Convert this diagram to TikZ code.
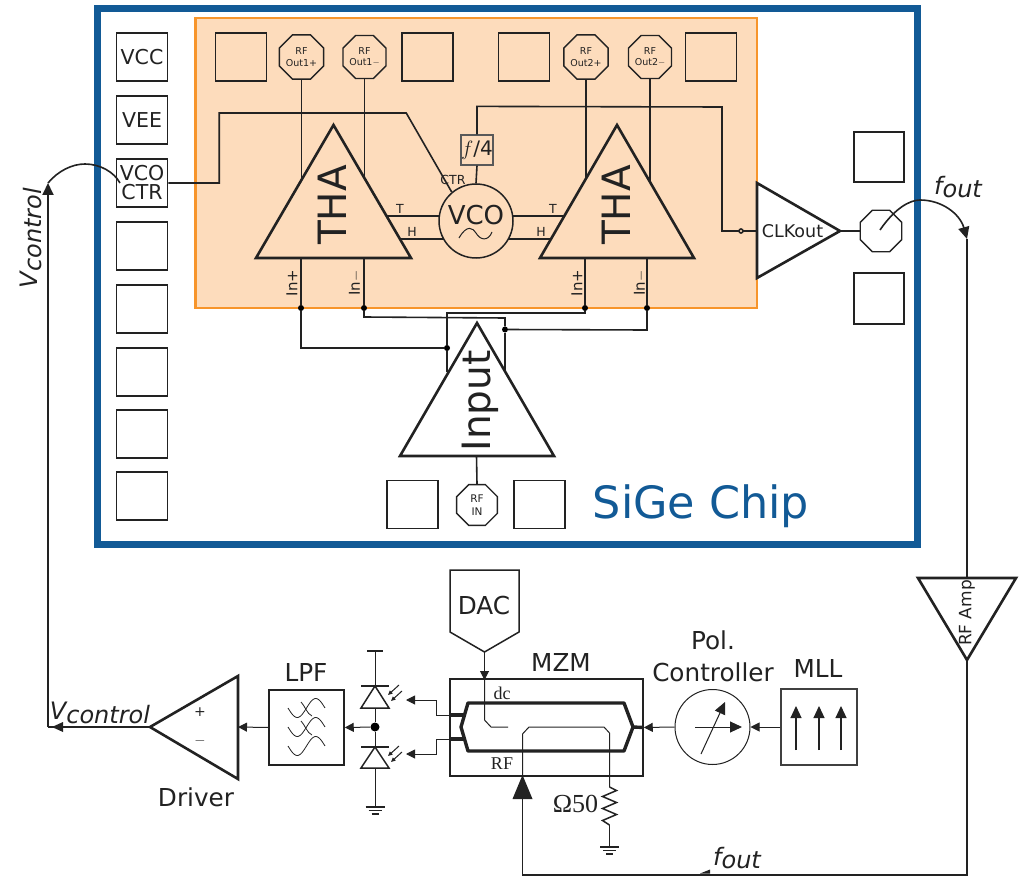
\documentclass[tikz,border=0pt]{standalone}
\usepackage{fontspec}
\setmainfont{DejaVu Sans}
\newfontfamily\serifpart{Liberation Serif}
\usepackage{xcolor}
\usetikzlibrary{arrows.meta}
\usetikzlibrary{shapes.geometric}
\definecolor{chipblue}{HTML}{125A96}
\definecolor{corefill}{HTML}{FDDCBC}
\definecolor{coreline}{HTML}{F7952B}
\definecolor{inkgray}{HTML}{222222}
\newcommand{\fs}[1]{\fontsize{#1}{#1}\selectfont}
\newcommand{\fout}{\textit{f\raisebox{-3pt}{out}}}
\newcommand{\vctl}{\textit{V\raisebox{-4pt}{control}}}

\begin{document}
\begin{tikzpicture}[x=1pt,y=-1pt,inkgray,
  wire/.style={line width=1.6pt},
  thin wire/.style={line width=1pt},
  amp/.style={line width=2.6pt},
  tip/.style={-{Triangle[length=9pt,width=9pt]}},
  big tip/.style={-{Triangle[length=12pt,width=11pt]}},
  pad/.style={draw,line width=1.5pt,rectangle,minimum width=51pt,minimum height=48pt,inner sep=0pt,font=\fs{20.5},align=center},
  octo/.style={draw,line width=1.4pt,regular polygon,regular polygon sides=8,minimum size=44pt,inner sep=0pt,font=\fs{9.5},align=center},
  dot/.style={circle,fill=black,inner sep=0pt,minimum size=6pt},
  lab/.style={font=\fs{24.7},inner sep=0pt},
  small lab/.style={font=\fs{12.5},inner sep=0pt},
  bigrot/.style={font=\fs{39},inner sep=0pt,rotate=90},
  pin lab/.style={font=\fs{15},inner sep=0pt,rotate=90}]
 \useasboundingbox (0,0) rectangle (1020,877);
 \fill[white] (0,0) rectangle (1020,877);

 %%%%%%%%%%%%%%%%%%%%%%%%%%%%%%%%%%% chip
 \draw[chipblue,line width=7pt] (97.5,9) rectangle (917.5,544);
 \path[fill=corefill,draw=coreline,line width=2.2pt] (195.5,18) rectangle (757,308);
 \node[font=\fs{44.5},text=chipblue,inner sep=0pt] (chiplabel) at (701,506) {SiGe Chip};

 \node[pad] (vcc) at (142,57) {VCC};
 \node[pad] (vee) at (142,120) {VEE};
 \node[pad] (vcoctr) at (142,183) {VCO\\[-1.5pt]CTR};
 \node[pad] (padA) at (142,246) {};
 \node[pad] (padB) at (142,309) {};
 \node[pad] (padC) at (142,372) {};
 \node[pad] (padD) at (142,434) {};
 \node[pad] (padE) at (142,496) {};
 \node[pad] (topA) at (241,57) {};
 \node[pad] (topB) at (427.5,57) {};
 \node[pad] (topC) at (524,57) {};
 \node[pad] (topD) at (711,57) {};
 \node[pad] (botA) at (412.5,504.5) {};
 \node[pad] (botB) at (539.5,504.5) {};
 \node[pad,minimum width=50pt,minimum height=50pt] (rightA) at (879,157) {};
 \node[pad,minimum width=50pt,minimum height=51pt] (rightB) at (879,298.5) {};

 \node[octo] (outAp) at (301.5,57) {RF\\[2pt]Out1+};
 \node[octo] (outAm) at (364.5,57) {RF\\[2pt]Out1$-$};
 \node[octo] (outBp) at (586,57) {RF\\[2pt]Out2+};
 \node[octo] (outBm) at (650,57) {RF\\[2pt]Out2$-$};
 \node[octo,font=\fs{10.5}] (rfin) at (477,505) {RF\\[2pt]IN};
 \node[octo,minimum size=45pt] (clkpad) at (881,231) {};

 %%%%%%%%%%%%%%%%%%%%%%%%%%%%%%%%%%% amplifiers
 \coordinate (thaAl) at (256,258);
 \coordinate (thaAr) at (411,258);
 \coordinate (thaBl) at (540,258);
 \coordinate (thaBr) at (694,258);
 \draw[amp,line join=miter] (333.5,125)--(thaAr)--(thaAl)--cycle;
 \draw[amp,line join=miter] (617,125)--(thaBr)--(thaBl)--cycle;
 \node[bigrot] (thaA) at (332,205) {THA};
 \node[bigrot] (thaB) at (616,205) {THA};

 \node[draw,circle,line width=1.5pt,minimum size=74pt,inner sep=0pt,fill=corefill] (vco) at (476,221) {};
 \node[font=\fs{26},inner sep=0pt] (vcotext) at (476,215) {VCO};
 \draw[line width=1pt] (459,238) .. controls (467,224) and (473,228) .. (476,233) .. controls (480,240) and (488,242) .. (492,232);
 \node[draw=gray!70!black,line width=1.2pt,minimum width=32pt,minimum height=30pt,inner sep=0pt,font=\fs{20}] (divider) at (477,150) {$f$/4};

 \coordinate (thaAtopl) at (301.5,180);
 \coordinate (thaAtopr) at (364.5,178);
 \coordinate (thaBtopl) at (586,178);
 \coordinate (thaBtopr) at (650,181);
 \draw[wire] (outAp)--(thaAtopl);
 \draw[wire] (outAm)--(thaAtopr);
 \draw[wire] (outBp)--(thaBtopl);
 \draw[wire] (outBm)--(thaBtopr);

 \draw[wire] (vcoctr.east)--++(51,0)--++(0,-70)--++(187,0)--(vco.130);
 \node[small lab] (ctrlab) at (453,180) {CTR};
 \draw[wire] (divider.south)--(vco.north);
 \coordinate (clkin) at (757,231);
 \draw[wire] (divider.north)--++(0,-28)--(722,107)--(722,231)--(clkin);
 \draw[wire,fill=corefill] (741,231) circle (2pt);

 \coordinate (tA) at (386,216);
 \coordinate (hA) at (400,239);
 \coordinate (tB) at (564,216);
 \coordinate (hB) at (551,239);
 \coordinate (vtl) at (440,216);
 \coordinate (vhl) at (444,239);
 \coordinate (vtr) at (512,216);
 \coordinate (vhr) at (508,239);
 \draw[wire] (tA)--(vtl);
 \draw[wire] (hA)--(vhl);
 \draw[wire] (vtr)--(tB);
 \draw[wire] (vhr)--(hB);
 \node[small lab] (tAl) at (400,209) {T};
 \node[small lab] (hAl) at (412,232) {H};
 \node[small lab] (tBl) at (553,209) {T};
 \node[small lab] (hBl) at (541,232) {H};

 %%%%%%%%%%%%%%%%%%%%%%%%%%%%%%%%%%% input stage
 \coordinate (inAp) at (301,258);
 \coordinate (inAm) at (364,258);
 \coordinate (inBp) at (585,258);
 \coordinate (inBm) at (647,258);
 \node[dot] (dAp) at (301,308) {};
 \node[dot] (dAm) at (364,308) {};
 \node[dot] (dBp) at (585,308) {};
 \node[dot] (dBm) at (647,308) {};
 \node[dot] (dIl) at (447,348) {};
 \node[dot] (dIr) at (505,329.5) {};
 \coordinate (inputl) at (447,372);
 \coordinate (inputr) at (505,370);
 \draw[wire] (inAp)--(dAp)--(301,348)--(dIl);
 \draw[wire] (inAm)--(dAm)--(364,317)--(505,318)--(dIr);
 \draw[wire] (inBp)--(dBp)--(585,313)--(447,313)--(dIl);
 \draw[wire] (inBm)--(dBm)--(647,330)--(dIr);
 \draw[wire] (dIl)--(inputl);
 \draw[wire] (dIr)--(inputr);
 \node[pin lab] (lAp) at (292,283) {In+};
 \node[pin lab] (lAm) at (355,283) {In$-$};
 \node[pin lab] (lBp) at (577,283) {In+};
 \node[pin lab] (lBm) at (640,283) {In$-$};

 \coordinate (inputbase) at (476.5,456);
 \draw[amp,line join=miter] (477,323)--(554,456)--(400,456)--cycle;
 \node[bigrot] (inputtext) at (480,401) {Input};
 \draw[wire] (inputbase)--(rfin.north);

 \draw[amp,line join=miter,fill=white] (757,183)--(840,231)--(757,278)--cycle;
 \node[font=\fs{17.5},inner sep=0pt] (clktext) at (792.5,231) {CLKout};
 \coordinate (clkout) at (840,231);
 \draw[line width=1.8pt] (clkout)--(clkpad.west);

 %%%%%%%%%%%%%%%%%%%%%%%%%%%%%%%%%%% loop wires
 \coordinate (foutstart) at (880,230);
 \coordinate (foutdown) at (967,239);
 \draw[line width=1.6pt,big tip] (foutstart) .. controls (895,208) and (910,200) .. (920,200) .. controls (942,200) and (960,214) .. (foutdown);
 \node[font=\fs{24},inner sep=0pt] (foutup) at (958,187) {\fout};

 \coordinate (ampin) at (967,578);
 \draw[line width=1.8pt] (foutdown)--(ampin);
 \draw[amp,line join=miter] (918,578)--(1016,578)--(967,660)--cycle;
 \node[font=\fs{17},inner sep=0pt,rotate=90] (amptext) at (967,613) {RF Amp};
 \coordinate (corner) at (967,875);
 \coordinate (rfwire) at (522.5,875);
 \coordinate (rftip) at (522.5,775);
 \draw[line width=1.8pt] (967,660)--(corner)--(rfwire)--(522.5,790);
 \fill (rftip)--(532.5,799)--(512.5,799)--cycle;
 \fill (700,873.5)--(710,869.5)--(710,873.5)--cycle;
 \node[font=\fs{24},inner sep=0pt] (foutdn) at (737,858) {\fout};

 \coordinate (ctrlend) at (120,183);
 \coordinate (ctrlup) at (48,183);
 \coordinate (ctrlcorner) at (48,727);
 \draw[wire] (ctrlup) .. controls (58,171) and (72,164) .. (85,164) .. controls (100,164) and (114,172) .. (ctrlend);
 \draw[line width=1.8pt,big tip] (ctrlcorner)--(ctrlup);
 \node[font=\fs{24},inner sep=0pt,rotate=90] (vup) at (31,238) {\vctl};

 %%%%%%%%%%%%%%%%%%%%%%%%%%%%%%%%%%% lower chain
 \coordinate (drvtip) at (150,727);
 \coordinate (drvin) at (238,727);
 \draw[amp,line join=miter] (drvtip)--(238,676)--(238,779)--cycle;
 \draw[line width=1.8pt] (drvtip)--(ctrlcorner);
 \fill (52,727)--(63,722)--(63,732)--cycle;
 \node[font=\fs{24},inner sep=0pt] (vdn) at (100,713) {\vctl};
 \node[font=\fs{14},inner sep=0pt] (plus) at (200,712) {+};
 \node[font=\fs{14},inner sep=0pt] (minus) at (200,741) {$-$};
 \node[lab] (drvtext) at (196,797) {Driver};

 \node[draw,line width=1.5pt,minimum size=75pt,inner sep=0pt] (lpf) at (306.5,727.5) {};
 \node[lab] (lpftext) at (306,672) {LPF};
 \draw[thin wire,tip] (lpf.west)--(drvin);
 \draw[line width=0.8pt,domain=0:1,samples=30,smooth] plot ({288+37*\x},{708+9.5*sin(360*\x)});
 \draw[line width=0.8pt,domain=0:1,samples=30,smooth] plot ({288+37*\x},{727+9.5*sin(360*\x)});
 \draw[line width=0.8pt,domain=0:1,samples=30,smooth] plot ({288+37*\x},{746+9.5*sin(360*\x)});
 \draw[line width=0.8pt] (301,702) .. controls (305,706) and (307,714) .. (312,716);
 \draw[line width=0.8pt] (301,721) .. controls (305,725) and (307,733) .. (312,735);

 \node[dot,minimum size=9pt] (pdmid) at (375,727) {};
 \draw[thin wire,tip] (pdmid)--(lpf.east);
 \coordinate (vbias) at (375,651);
 \coordinate (gndA) at (375,807);
 \draw[line width=1.6pt] (367,651)--(383,651);
 \draw[thin wire] (vbias)--(pdmid)--(gndA);
 \draw[line width=1.5pt,fill=white] (375,686)--(389,708)--(361,708)--cycle;
 \draw[line width=1.5pt,fill=white] (375,747)--(389,768)--(361,768)--cycle;
 \draw[line width=1.5pt] (361,686)--(389,686);
 \draw[line width=1.5pt] (361,747)--(389,747);
 \draw[thin wire,-{Triangle[length=4.5pt,width=4pt]}] (399,685)--(388,695);
 \draw[thin wire,-{Triangle[length=4.5pt,width=4pt]}] (402,691)--(391,701);
 \draw[thin wire,-{Triangle[length=4.5pt,width=4pt]}] (399,746)--(388,756);
 \draw[thin wire,-{Triangle[length=4.5pt,width=4pt]}] (402,752)--(391,762);
 \draw[line width=1.3pt] (365.5,807)--(384.5,807) (368.5,810.5)--(381.5,810.5) (371.5,814)--(378.5,814);

 %%%%%%%%%%%%%%%%%%%%%%%%%%%%%%%%%%% modulator
 \node[draw,line width=1.5pt,minimum width=193pt,minimum height=97pt,inner sep=0pt] (mzm) at (546.5,727.5) {};
 \node[lab] (mzmtext) at (561,662) {MZM};
 \coordinate (stubA) at (465,715);
 \coordinate (stubB) at (465,739);
 \draw[line width=3.4pt,line join=round] (468,703)--(624,703)--(633,727)--(624,751)--(468,751)--(461,727)--cycle;
 \draw[line width=3.4pt] (mzm.west |- stubA)--(stubA);
 \draw[line width=3.4pt] (mzm.west |- stubB)--(stubB);
 \draw[line width=3.4pt] (633,727)--(mzm.east);
 \coordinate (pdA) at (406,700);
 \coordinate (pdB) at (406,754);
 \draw[thin wire,tip] (mzm.west |- stubA)--(436,715)--(436,700)--(pdA);
 \draw[thin wire,tip] (mzm.west |- stubB)--(436,739)--(436,754)--(pdB);

 \draw[line width=1.5pt,line join=miter] (450,570)--(519,570)--(519,632)--(484.5,652)--(450,632)--cycle;
 \node[lab] (dactext) at (484,606) {DAC};
 \coordinate (dactip) at (484.5,652);
 \coordinate (mzmtop) at (484.5,680);
 \draw[thin wire,tip] (dactip)--(mzmtop);
 \draw[thin wire] (mzmtop)--(484.5,720)--(491,727)--(508,727);
 \node[font=\serifpart\fs{18},inner sep=0pt] (dclab) at (502,693) {dc};
 \node[font=\serifpart\fs{18},inner sep=0pt] (rflab) at (502,764) {RF};
 \draw[thin wire] (rftip)--(522.5,734)--(529,727)--(604,727)--(609.5,733)--(609.5,787);
 \coordinate (resA) at (609.5,787);
 \coordinate (resB) at (609.5,825);
 \draw[line width=1.5pt] (resA)--++(7,3.5)--++(-14,6)--++(14,6)--++(-14,6)--++(14,6)--++(-14,6)--(resB);
 \coordinate (gndB) at (609.5,847);
 \draw[thin wire] (resB)--(gndB);
 \draw[line width=1.3pt] (600,847)--(619,847) (603,850.5)--(616,850.5) (606,854)--(613,854);
 \node[font=\serifpart\fs{26},inner sep=0pt] (ohm) at (575.5,804) {Ω50};

 %%%%%%%%%%%%%%%%%%%%%%%%%%%%%%%%%%% laser side
 \node[draw,circle,line width=1pt,minimum size=75pt,inner sep=0pt] (pol) at (712.5,727) {};
 \node[lab] (poltextA) at (713,640) {Pol.};
 \node[lab] (poltextB) at (713,672) {Controller};
 \draw[thin wire,big tip] (695,727)--(742,727);
 \draw[thin wire,big tip] (701,754)--(725,702);
 \draw[thin wire,tip] (pol.west)--(mzm.east);

 \node[draw=gray!50!black,line width=1.2pt,minimum size=76pt,inner sep=0pt] (mll) at (819,727) {};
 \node[lab] (mlltext) at (818,668) {MLL};
 \draw[thin wire,tip] (mll.west)--(pol.east);
 \draw[line width=1.1pt,big tip] (796,750)--(796,706);
 \draw[line width=1.1pt,big tip] (819,750)--(819,706);
 \draw[line width=1.1pt,big tip] (841,750)--(841,706);
\end{tikzpicture}
\end{document}
